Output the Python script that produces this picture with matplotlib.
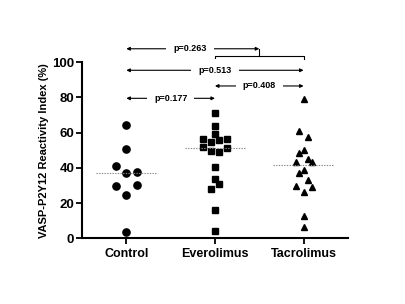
import matplotlib
matplotlib.use("Agg")
import matplotlib.pyplot as plt
import numpy as np

plt.rcParams["font.family"] = ["Liberation Sans", "DejaVu Sans"]
plt.rcParams["font.weight"] = "bold"

GROUPS = ["Control", "Everolimus", "Tacrolimus"]

# values (VASP-P2Y12 reactivity index, %)
control = [64.2, 51.0, 41.2, 36.9, 37.8, 29.7, 30.3, 24.6, 3.7]
control_dx = [0, 0, -0.12, 0, 0.12, -0.12, 0.12, 0, 0]
everolimus = [71.4, 64.0, 59.0, 56.2, 55.8, 56.2, 54.5, 52.0, 49.5, 49.0, 51.3,
              40.6, 34.0, 28.2, 30.7, 16.1, 4.2]
everolimus_dx = [0, 0, 0, -0.132, 0.048, 0.132, -0.045, -0.132, -0.045, 0.048, 0.132,
                 0, 0, -0.045, 0.048, 0, 0]
tacrolimus = [78.9, 61.0, 57.6, 50.1, 48.6, 45.0, 43.1, 43.1, 38.8, 36.9, 33.1,
              29.9, 29.1, 26.1, 12.9, 6.7]
tacrolimus_dx = [0, -0.05, 0.045, 0, -0.05, 0.045, -0.086, 0.098, 0, -0.05, 0.045,
                 -0.086, 0.098, 0, 0, 0]
medians = [36.9, 51.2, 41.4]

# comparisons: (from group, to group, y, label)
comparisons = [(0, 1, 79.5, "p=0.177"), (1, 2, 86.5, "p=0.408"), (0, 2, 95.4, "p=0.513")]

fig = plt.figure(figsize=(4.05, 3.04), dpi=100)
ax = fig.add_axes([0.2025, 0.2155, 0.6565, 0.58])

for i, (vals, dx, mk, ms) in enumerate([(control, control_dx, "o", 5.2),
                                         (everolimus, everolimus_dx, "s", 4.6),
                                         (tacrolimus, tacrolimus_dx, "^", 5.0)]):
    x = i + np.array(dx)
    ax.plot(x, vals, mk, color="black", markersize=ms, linestyle="none", clip_on=False)
    ax.plot([i - 0.34, i + 0.34], [medians[i]] * 2, color="#888888", lw=0.8,
            linestyle=(0, (1.2, 1.2)))

for a, b, y, lab in comparisons:
    ax.annotate("", xy=(a, y), xytext=(b, y), annotation_clip=False,
                arrowprops=dict(arrowstyle="<|-|>", lw=0.8, color="black",
                                mutation_scale=5, shrinkA=0, shrinkB=0))
    ax.text((a + b) / 2, y, lab, fontsize=6.5, fontweight="bold", ha="center",
            va="center", clip_on=False,
            bbox=dict(facecolor="white", edgecolor="none", pad=5))

# bracket Everolimus-Tacrolimus, then arrow from Control to its middle
ax.plot([1, 1, 2, 2], [102.0, 103.4, 103.4, 102.0], color="black", lw=0.8, clip_on=False)
ax.plot([1.5, 1.5], [103.4, 107.6], color="black", lw=0.8, clip_on=False)
ax.annotate("", xy=(0, 107.6), xytext=(1.5, 107.6), annotation_clip=False,
            arrowprops=dict(arrowstyle="<|-|>", lw=0.8, color="black",
                            mutation_scale=5, shrinkA=0, shrinkB=0))
ax.text(0.72, 107.6, "p=0.263", fontsize=6.5, fontweight="bold", ha="center",
        va="center", clip_on=False,
        bbox=dict(facecolor="white", edgecolor="none", pad=5))

ax.set_xlim(-0.5, 2.5)
ax.set_ylim(0, 100)
ax.set_yticks([0, 20, 40, 60, 80, 100])
ax.set_xticks(range(len(GROUPS)))
ax.set_xticklabels(GROUPS, fontsize=9, fontweight="bold")
ax.tick_params(axis="y", labelsize=9.5, width=1.3, length=4, direction="out", pad=1.5)
ax.tick_params(axis="x", width=1.3, length=4, direction="out", pad=3)
for t in ax.get_yticklabels():
    t.set_fontweight("bold")
ax.set_ylabel("VASP-P2Y12 Reactivity Index (%)", fontsize=8, fontweight="bold", labelpad=2)
ax.spines[["top", "right"]].set_visible(False)
ax.spines["left"].set_linewidth(1.5)
ax.spines["bottom"].set_linewidth(1.5)

fig.savefig("out.png", dpi=100)
